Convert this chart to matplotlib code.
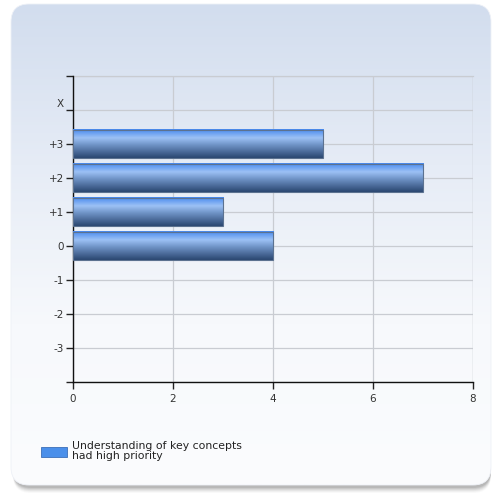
import numpy as np
import matplotlib
matplotlib.use("Agg")
import matplotlib.pyplot as plt
from matplotlib.patches import FancyBboxPatch, Rectangle
from matplotlib.colors import LinearSegmentedColormap
import matplotlib.transforms as mtransforms

# Ratings, listed from top to bottom
categories = ["X", "+3", "+2", "+1", "0", "-1", "-2", "-3"]
counts = [0, 5, 7, 3, 4, 0, 0, 0]
series_name = "Understanding of key concepts\nhad high priority"
x_ticks = [0, 2, 4, 6, 8]

W, H = 494, 496
fig = plt.figure(figsize=(W / 100, H / 100), dpi=100)
fig.patch.set_facecolor("white")

# Rounded panel with soft drop shadow and vertical gradient
bg = fig.add_axes([0, 0, 1, 1])
bg.set_xlim(0, W)
bg.set_ylim(H, 0)
bg.axis("off")
for off, a in [(7, 0.04), (6, 0.06), (5, 0.08), (4, 0.11), (3, 0.14), (2, 0.18)]:
    sh = FancyBboxPatch((12 + 1, 6 + off), 478, 480, boxstyle="round,pad=0,rounding_size=18",
                        facecolor="#707070", edgecolor="none", alpha=a, zorder=1)
    bg.add_patch(sh)
panel = FancyBboxPatch((11, 4), 480, 481, boxstyle="round,pad=0,rounding_size=18",
                       facecolor="none", edgecolor="#eef1f7", linewidth=0.6, zorder=3)
bg.add_patch(panel)
grad_cmap = LinearSegmentedColormap.from_list("panel", ["#d2ddee", "#e6ecf6", "#f7f9fc", "#fbfcfe"])
grad = np.linspace(0, 1, 256).reshape(-1, 1)
im = bg.imshow(grad, cmap=grad_cmap, aspect="auto", extent=(11, 491, 485, 4), zorder=2)
clip = FancyBboxPatch((11, 4), 480, 481, boxstyle="round,pad=0,rounding_size=18",
                      facecolor="none", edgecolor="none", transform=bg.transData)
bg.add_patch(clip)
im.set_clip_path(clip)

# Main bar chart
ax = fig.add_axes([73 / W, 1 - 382 / H, 400 / W, 306 / H])
ax.patch.set_alpha(0)
n = len(categories)
ypos = np.arange(n, 0, -1)
bars = ax.barh(ypos, counts, height=0.83, color="none", edgecolor="#5c7290",
               linewidth=0.8, zorder=4)
bar_cmap = LinearSegmentedColormap.from_list(
    "bar", [(0.0, "#4688ee"), (0.3, "#9cc1f5"), (0.55, "#6f93c6"), (1.0, "#2a4670")])
bar_grad = np.linspace(0, 1, 128).reshape(-1, 1)
for b in bars:
    if b.get_width() <= 0:
        b.set_visible(False)
        continue
    x0, y0, w, h = b.get_x(), b.get_y(), b.get_width(), b.get_height()
    ax.imshow(bar_grad, cmap=bar_cmap, aspect="auto",
              extent=(x0, x0 + w, y0, y0 + h), origin="upper", zorder=3)
ax.set_xlim(0, 8)
ax.set_ylim(0, n + 1)
ax.set_aspect("auto")

ax.set_xticks(x_ticks)
ax.set_xticklabels([str(t) for t in x_ticks])
ax.set_yticks(list(range(0, n + 2)))
ax.set_yticklabels([""] + categories[::-1] + [""])
ax.grid(True, color="#c9ccd2", linewidth=0.9, zorder=0)
ax.set_axisbelow(True)
for s in ["top", "right"]:
    ax.spines[s].set_visible(False)
for s in ["left", "bottom"]:
    ax.spines[s].set_color("#111111")
    ax.spines[s].set_linewidth(1.0)
ax.tick_params(axis="both", colors="#222222", labelsize=7.5, length=5, width=1.0,
               labelcolor="#333333")
ax.tick_params(axis="y", pad=1.5)
ax.tick_params(axis="x", pad=4)

# top and right edges of the plotting area drawn as grid lines
ax.axhline(n + 1, color="#c9ccd2", linewidth=0.9, zorder=0, clip_on=False)
ax.axvline(8, color="#c9ccd2", linewidth=0.9, zorder=0)

# lift the "X" label a little
for lbl in ax.get_yticklabels():
    if lbl.get_text() == "X":
        lbl.set_transform(lbl.get_transform() +
                          mtransforms.ScaledTranslation(0, 7 / 100, fig.dpi_scale_trans))

# Legend
bg.add_patch(Rectangle((41, 447), 26, 10, facecolor="#4a8fea", edgecolor="#3b6fb8",
                       linewidth=0.6, zorder=5))
bg.text(72, 451, series_name, fontsize=7.8, color="#222222", va="center", ha="left",
        linespacing=1.1, zorder=5)

fig.savefig("out.png", dpi=100)
